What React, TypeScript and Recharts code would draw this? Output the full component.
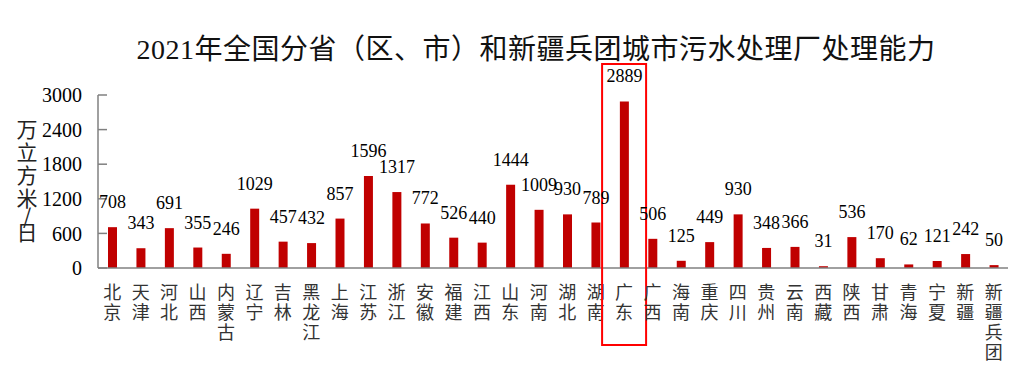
import React from 'react';
import { BarChart, Bar, XAxis, YAxis, LabelList } from 'recharts';

const provinces = ['北京','天津','河北','山西','内蒙古','辽宁','吉林','黑龙江','上海','江苏','浙江','安徽','福建','江西','山东','河南','湖北','湖南','广东','广西','海南','重庆','四川','贵州','云南','西藏','陕西','甘肃','青海','宁夏','新疆','新疆兵团'];
const capacity = [708,343,691,355,246,1029,457,432,857,1596,1317,772,526,440,1444,1009,930,789,2889,506,125,449,930,348,366,31,536,170,62,121,242,50];
const yTicks = [0, 600, 1200, 1800, 2400, 3000];
const highlighted = ['广东'];
const title = '2021年全国分省（区、市）和新疆兵团城市污水处理厂处理能力';
const yTitleChars = ['万','立','方','米','/','日'];

const data = provinces.map((name, i) => ({ name, value: capacity[i] }));

const SERIF = '"Liberation Serif", "Noto Sans CJK SC", serif';
const CJK = '"Noto Sans CJK SC", "Liberation Serif", sans-serif';

const XTick = (props: any) => {
  const { x, y, payload } = props;
  const chars = Array.from(String(payload.value));
  const isHi = highlighted.includes(payload.value);
  return (
    <g>
      {isHi && (
        <rect x={x - 22} y={y - 204} width={44} height={281} fill="none" stroke="#FF0000" strokeWidth={2} />
      )}
      {chars.map((c, i) => (
        <text key={i} x={x} y={y + 31 + i * 20} textAnchor="middle" fontFamily={CJK} fontSize={18} fill="#333">{c}</text>
      ))}
    </g>
  );
};

const YTitle = () => {
  let yy = 137;
  return (
    <g>
      {yTitleChars.map((c, i) => {
        const cur = yy;
        yy += c === '/' ? 16 : (yTitleChars[i + 1] === '/' ? 18 : 23);
        return (
          <text key={i} x={27} y={cur} textAnchor="middle" fontFamily={CJK} fontSize={21} fill="#222">{c}</text>
        );
      })}
    </g>
  );
};

export default function App() {
  return (
    <div style={{ position: 'absolute', left: 0, top: 0, width: 1034, height: 387, background: '#fff' }}>
      <div style={{ position: 'absolute', left: 0, width: 1072, top: 32, textAlign: 'center', fontFamily: SERIF, fontSize: 28, lineHeight: '36px', color: '#111', letterSpacing: 0.5 }}>
        {title}
      </div>
      <div style={{ position: 'absolute', left: 0, top: 0 }}>
        <BarChart width={1034} height={387} data={data} margin={{ top: 95, right: 26, bottom: 0, left: 0 }} barCategoryGap={0}>
          <XAxis
            dataKey="name"
            interval={0}
            height={119}
            tickLine={false}
            tickSize={0}
            tickMargin={0}
            axisLine={{ stroke: '#808080', strokeWidth: 1.5 }}
            tick={<XTick />}
          />
          <YAxis
            width={98}
            domain={[0, 3000]}
            ticks={yTicks}
            interval={0}
            tickSize={-9}
            tickMargin={25}
            axisLine={{ stroke: '#808080', strokeWidth: 1.5 }}
            tickLine={{ stroke: '#808080', strokeWidth: 1.5 }}
            tick={{ fontFamily: SERIF, fontSize: 20, fill: '#000' }}
            label={{ content: () => <YTitle /> }}
          />
          <Bar dataKey="value" fill="#C00000" barSize={9} isAnimationActive={false}>
            <LabelList dataKey="value" position="top" offset={19} style={{ fontFamily: SERIF, fontSize: 18, fill: '#000' }} />
          </Bar>
        </BarChart>
      </div>
    </div>
  );
}
